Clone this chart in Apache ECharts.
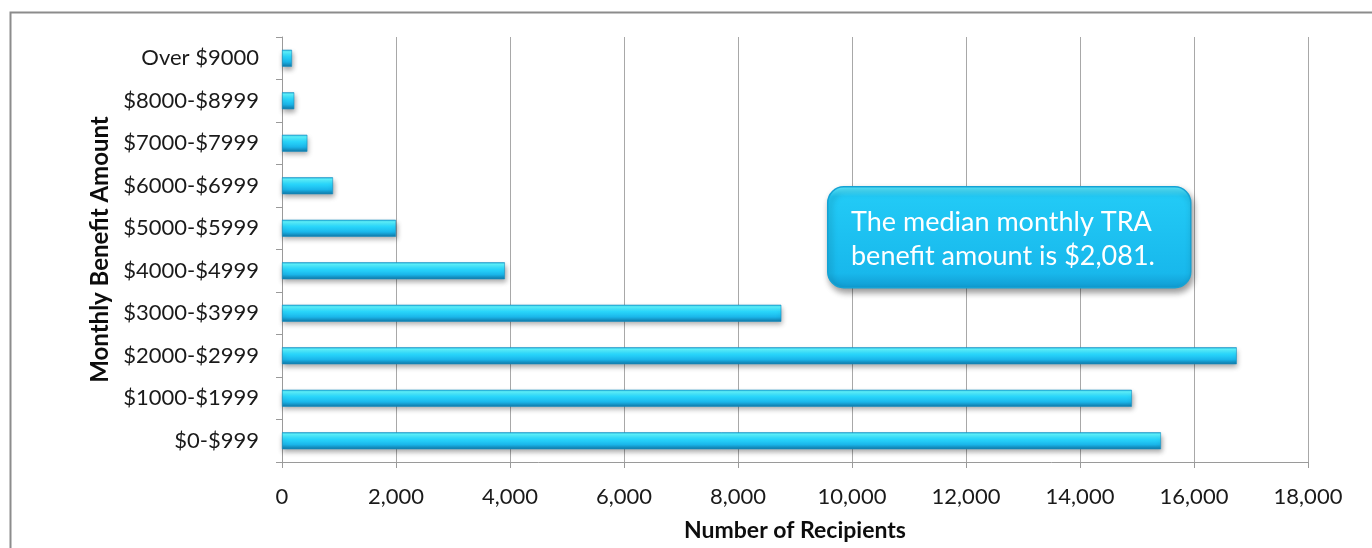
<!DOCTYPE html>
<html>
<head>
<meta charset="utf-8">
<script src="https://cdn.jsdelivr.net/npm/echarts@6/dist/echarts.min.js"></script>
<style>
  html, body { margin: 0; padding: 0; background: #ffffff; }
  #chart { width: 1372px; height: 548px; }
</style>
</head>
<body>
<div id="chart"></div>
<script>
// Monthly TRA benefit distribution
const categories = ['$0-$999', '$1000-$1999', '$2000-$2999', '$3000-$3999', '$4000-$4999',
                    '$5000-$5999', '$6000-$6999', '$7000-$7999', '$8000-$8999', 'Over $9000'];
const recipients = [15420, 14910, 16750, 8760, 3910, 2000, 895, 445, 215, 175];
const xTicks = { min: 0, max: 18000, interval: 2000 };
const noteLines = ['The median monthly TRA', 'benefit amount is $2,081.'];

const FONT = 'Lato';
const chart = echarts.init(document.getElementById('chart'));

chart.setOption({
  animation: false,
  backgroundColor: '#ffffff',
  grid: { left: 282, right: 64, top: 37, bottom: 86, containLabel: false },
  xAxis: {
    type: 'value',
    min: xTicks.min, max: xTicks.max, interval: xTicks.interval,
    name: 'Number of Recipients',
    nameLocation: 'middle',
    nameGap: 57,
    nameTextStyle: { fontFamily: FONT, fontWeight: 'bold', fontSize: 23, color: '#0d0d0d', verticalAlign: 'top' },
    axisLine: { show: true, lineStyle: { color: '#9a9a9a', width: 1 } },
    axisTick: { show: true, length: 6, lineStyle: { color: '#9a9a9a' } },
    axisLabel: {
      fontFamily: FONT, fontSize: 22, color: '#1a1a1a', margin: 24,
      formatter: v => v.toLocaleString('en-US')
    },
    splitLine: { show: true, lineStyle: { color: '#a8a8a8', width: 1 } }
  },
  yAxis: {
    type: 'category',
    data: categories,
    name: 'Monthly Benefit Amount',
    nameLocation: 'middle',
    nameRotate: 90,
    nameGap: 166,
    nameTextStyle: { fontFamily: FONT, fontWeight: 'bold', fontSize: 24, color: '#0d0d0d' },
    axisLine: { show: true, lineStyle: { color: '#9a9a9a', width: 1 } },
    axisTick: { show: true, length: 6, lineStyle: { color: '#9a9a9a' } },
    axisLabel: { fontFamily: FONT, fontSize: 22, color: '#1a1a1a', margin: 23 },
    splitLine: { show: false }
  },
  series: [{
    type: 'bar',
    data: recipients,
    barWidth: 17,
    z: 2,
    itemStyle: {
      color: new echarts.graphic.LinearGradient(0, 0, 0, 1, [
        { offset: 0, color: '#22b0de' },
        { offset: 0.12, color: '#5ef4ff' },
        { offset: 0.4, color: '#2ad8fd' },
        { offset: 0.72, color: '#1ab6ea' },
        { offset: 1, color: '#1177a6' }
      ]),
      borderColor: '#1690c2',
      borderWidth: 0.6,
      shadowColor: 'rgba(0,0,0,0.35)',
      shadowBlur: 5,
      shadowOffsetX: 1,
      shadowOffsetY: 3
    }
  }],
  graphic: [
    {
      type: 'rect',
      left: 8, top: 10,
      shape: { width: 1400, height: 600 },
      style: { fill: 'none', stroke: '#8c8c8c', lineWidth: 2 },
      silent: true, z: 0
    },
    {
      type: 'rect',
      left: 827, top: 186,
      z: 100,
      shape: { width: 363, height: 101, r: 16 },
      style: {
        fill: new echarts.graphic.LinearGradient(0, 0, 0, 1, [
          { offset: 0, color: '#62ecff' },
          { offset: 0.1, color: '#22caf6' },
          { offset: 0.85, color: '#18b8ec' },
          { offset: 1, color: '#109ad0' }
        ]),
        stroke: '#14a2d4',
        lineWidth: 1.5,
        shadowColor: 'rgba(0,0,0,0.4)',
        shadowBlur: 6,
        shadowOffsetX: 2,
        shadowOffsetY: 4
      }
    },
    {
      type: 'text',
      left: 851, top: 205,
      z: 101,
      style: {
        text: noteLines.join('\n'),
        fontFamily: FONT, fontSize: 27, lineHeight: 34,
        fill: '#ffffff'
      }
    }
  ]
});
</script>
</body>
</html>
